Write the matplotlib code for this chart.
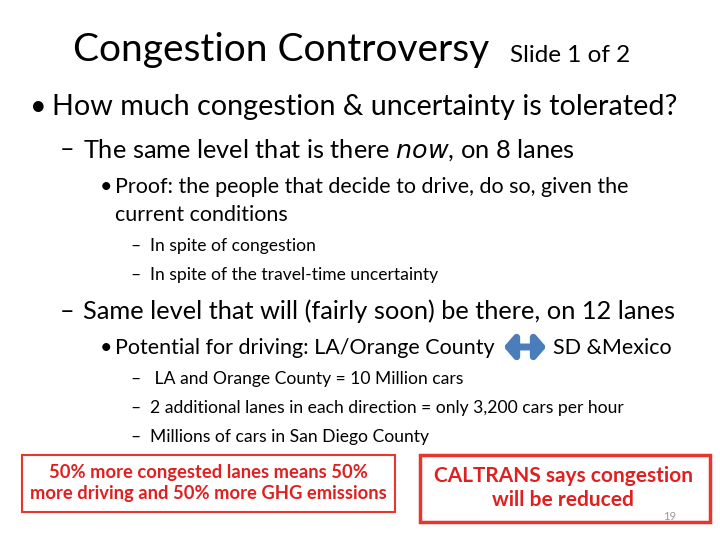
import matplotlib.pyplot as plt
from matplotlib.patches import Rectangle, FancyArrowPatch

plt.rcParams["font.family"] = ["Lato", "DejaVu Sans"]

TITLE = "Congestion Controversy"
SUBTITLE = "Slide 1 of 2"
# (level, text, x px, y px, font size)
LINES = [
    (1, "How much congestion & uncertainty is tolerated?", 52, 107, 20.7),
    (2, "The same level that is there $\\mathbf{\\it{now}}$, on 8 lanes", 83, 150, 18.3),
    (3, "Proof: the people that decide to drive, do so, given the", 115, 187, 15.5),
    (0, "current conditions", 115, 215, 15.5),
    (4, "In spite of congestion", 150, 246, 12.6),
    (4, "In spite of the travel-time uncertainty", 150, 275, 12.6),
    (2, "Same level that will (fairly soon) be there, on 12 lanes", 83, 311, 18.3),
    (3, "Potential for driving: LA/Orange County", 115, 348, 15.5),
    (4, " LA and Orange County = 10 Million cars", 150, 379, 12.6),
    (4, "2 additional lanes in each direction = only 3,200 cars per hour", 150, 408, 12.6),
    (4, "Millions of cars in San Diego County", 150, 437, 12.6),
]
BULLETS = {1: ("•", 30), 2: ("–", 60), 3: ("•", 100), 4: ("–", 130)}
LEFT_BOX = "50% more congested lanes means 50%\nmore driving and 50% more GHG emissions"
RIGHT_BOX = "CALTRANS says congestion\nwill be reduced"
PAGE = "19"

fig = plt.figure(figsize=(7.2, 5.4), dpi=100)
ax = fig.add_axes([0, 0, 1, 1])
ax.set_xlim(0, 720)
ax.set_ylim(540, 0)
ax.axis("off")

ax.text(73, 50, TITLE, fontsize=28, va="center", ha="left")
ax.text(510, 55, SUBTITLE, fontsize=17.5, va="center", ha="left")

for level, text, x, y, fs in LINES:
    if level:
        sym, bx = BULLETS[level]
        ax.text(bx, y, sym, fontsize=fs, va="center", ha="left")
    ax.text(x, y, text, fontsize=fs, va="center", ha="left")

ax.text(553, 348, "SD &Mexico", fontsize=15.5, va="center", ha="left")
ax.add_patch(FancyArrowPatch((501, 347), (549, 347), arrowstyle="<|-|>,head_length=6,head_width=7",
                             mutation_scale=1, lw=5, color="#4a7ebb"))

ax.add_patch(Rectangle((22, 455), 373, 57, fill=False, ec="#e8362e", lw=1.5))
ax.text(208, 483, LEFT_BOX, fontsize=13.2, color="#e02020", ha="center", va="center",
        weight="bold", linespacing=1.3)
ax.add_patch(Rectangle((420, 455), 290, 67, fill=False, ec="#e8362e", lw=2.5))
ax.text(563, 488, RIGHT_BOX, fontsize=15, color="#e02020", ha="center", va="center",
        weight="bold", linespacing=1.25)
ax.text(670, 516, PAGE, fontsize=8, color="#999999", ha="center", va="center")

fig.savefig("out.png", dpi=100)
